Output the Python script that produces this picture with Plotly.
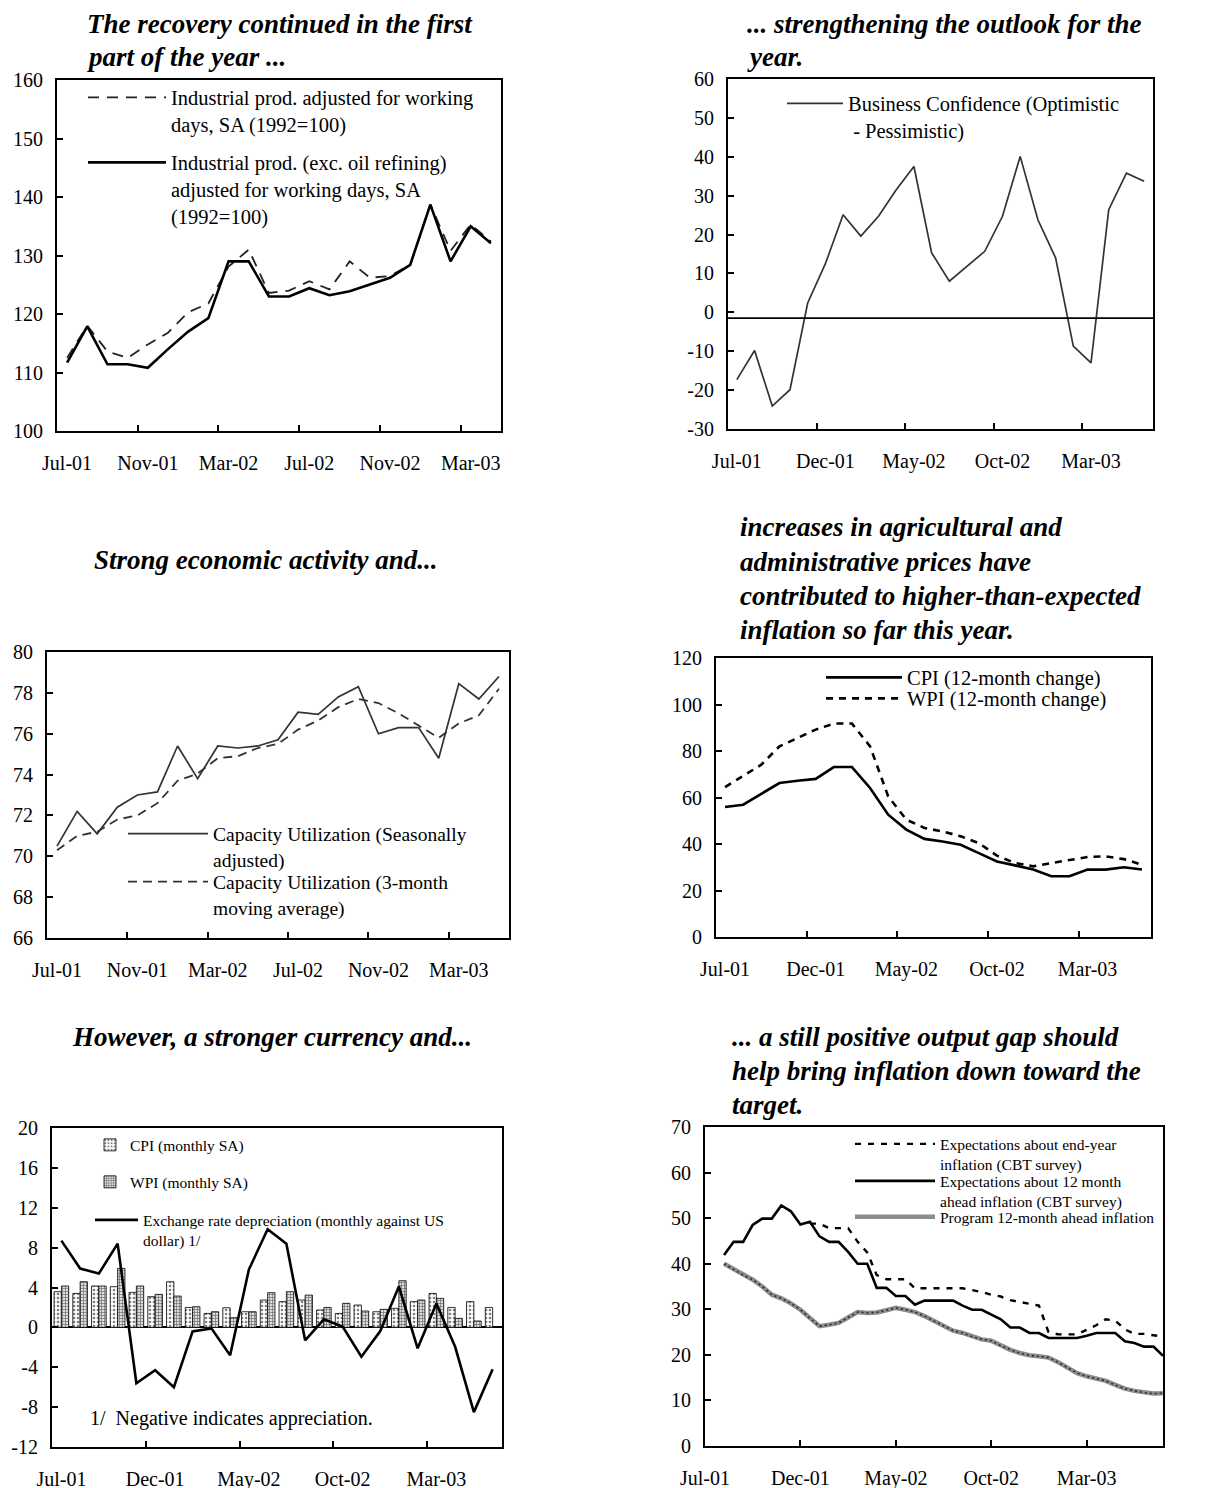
import plotly.graph_objects as go

W, H = 1212, 1488
SERIF = "Liberation Serif"
PAGE_OFFSET = 8  # default body margin of the html page

# ---------------- data ----------------
MONTHS = ["Jul-01", "Aug-01", "Sep-01", "Oct-01", "Nov-01", "Dec-01",
          "Jan-02", "Feb-02", "Mar-02", "Apr-02", "May-02", "Jun-02",
          "Jul-02", "Aug-02", "Sep-02", "Oct-02", "Nov-02", "Dec-02",
          "Jan-03", "Feb-03", "Mar-03", "Apr-03", "May-03", "Jun-03"]

# Panel 1: industrial production (Jul-01 .. Apr-03)
ip_total = [112.5, 118.0, 113.6, 112.5, 114.8, 116.8, 120.3, 121.8, 128.1, 131.0, 123.6,
            124.0, 125.6, 124.2, 129.0, 126.2, 126.5, 128.4, 138.7, 130.8, 135.3, 132.4]
ip_ex_oil = [111.7, 117.9, 111.4, 111.4, 110.8, 114.0, 117.0, 119.3, 129.0, 129.0, 123.0,
             123.0, 124.4, 123.2, 123.9, 125.0, 126.2, 128.4, 138.7, 129.0, 135.0, 132.1]

# Panel 2: business confidence (Jul-01 .. Jun-03)
business_conf = [-17.3, -9.8, -24.1, -19.9, 2.4, 12.5, 25.1, 19.6, 24.7, 31.5, 37.5, 15.3,
                 8.0, 11.8, 15.7, 24.7, 40.1, 23.8, 14.0, -8.7, -13.0, 26.4, 35.8, 33.7]
bc_reference_level = -1.5

# Panel 3: capacity utilization (Jul-01 .. May-03)
cu_sa = [70.5, 72.2, 71.1, 72.4, 73.0, 73.15, 75.4, 73.8, 75.4, 75.3, 75.4, 75.7,
         77.05, 76.95, 77.8, 78.3, 76.0, 76.3, 76.3, 74.8, 78.45, 77.7, 78.8]
cu_ma3 = [70.3, 71.0, 71.2, 71.8, 72.0, 72.6, 73.7, 74.05, 74.8, 74.9, 75.3, 75.5,
          76.2, 76.65, 77.3, 77.7, 77.5, 77.0, 76.4, 75.8, 76.5, 76.9, 78.2]

# Panel 4: CPI / WPI 12-month change (Jul-01 .. Jun-03)
cpi_12m = [55.9, 56.9, 61.6, 66.2, 67.2, 68.0, 73.1, 73.1, 64.1, 52.6, 46.2, 42.2,
           41.1, 39.7, 36.1, 32.5, 30.8, 29.0, 26.1, 26.1, 29.0, 29.0, 30.0, 29.0]
wpi_12m = [64.5, 69.4, 74.1, 82.0, 85.6, 89.2, 91.8, 91.8, 82.0, 60.5, 50.5, 46.9,
           45.4, 43.3, 40.4, 35.0, 31.8, 30.4, 31.8, 33.0, 34.4, 34.7, 33.5, 31.1]

# Panel 5: monthly SA inflation and exchange-rate depreciation (Jul-01 .. Jun-03)
cpi_monthly = [3.58, 3.41, 4.15, 4.08, 3.51, 3.08, 4.58, 2.0, 1.4, 1.97, 1.57, 2.74,
               2.58, 2.74, 1.74, 1.4, 2.24, 1.57, 1.91, 2.58, 3.41, 2.0, 2.58, 2.0]
wpi_monthly = [4.15, 4.58, 4.15, 5.92, 4.15, 3.31, 3.14, 2.07, 1.57, 0.97, 1.57, 3.48,
               3.58, 3.24, 2.0, 2.41, 1.64, 1.81, 4.68, 2.74, 2.91, 0.9, 0.64, None]
fx_depreciation = [8.7, 5.9, 5.4, 8.4, -5.6, -4.3, -6.0, -0.4, -0.1, -2.8, 5.8, 9.85,
                   8.4, -1.3, 0.8, 0.07, -2.95, -0.4, 4.1, -2.1, 2.4, -1.95, -8.5, -4.2]

# Panel 6: semi-monthly expectation surveys (months after Jul-01, from Aug-01)
survey_pos = [1 + 0.5 * k for k in range(47)]
exp_end_year = [None] * 9 + [48.8, 48.8, 47.8, 47.8, 47.8, 44.8, 42.5, 37.5, 36.6, 36.6,
                             36.6, 34.6, 34.6, 34.6, 34.6, 34.6, 34.6, 34.2, 33.8, 33.2,
                             32.8, 32.0, 31.6, 31.2, 30.8, 25.0, 24.5, 24.5, 24.5, 25.5,
                             26.5, 27.8, 27.5, 25.6, 24.6, 24.6, 24.3, 24.0]
exp_12m = [41.9, 44.8, 44.8, 48.5, 49.9, 49.9, 52.8, 51.5, 48.6, 49.2, 46.0, 44.8, 44.8,
           42.6, 40.0, 40.0, 34.7, 34.7, 32.9, 32.9, 31.0, 31.9, 31.9, 31.9, 31.9, 30.8,
           29.9, 29.9, 28.8, 27.8, 26.0, 26.0, 24.8, 24.8, 23.7, 23.7, 23.7, 23.7, 24.2,
           24.8, 24.8, 24.8, 23.0, 22.6, 21.8, 21.8, 19.8]
program_12m = [40.0, 38.8, 37.5, 36.5, 35.0, 33.2, 32.4, 31.3, 29.9, 28.0, 26.3, 26.6,
               27.0, 28.2, 29.4, 29.2, 29.3, 29.8, 30.3, 29.9, 29.4, 28.5, 27.5, 26.4,
               25.3, 24.8, 24.0, 23.4, 23.1, 22.0, 21.1, 20.4, 19.9, 19.7, 19.4, 18.4,
               17.2, 16.0, 15.3, 14.8, 14.3, 13.4, 12.6, 12.1, 11.7, 11.5, 11.6]

# ---------------- layout helpers ----------------
def fx(px):
    return (px - PAGE_OFFSET) / W


def fy(py):
    return 1 - (py - PAGE_OFFSET) / H


PANELS = {
    1: dict(x=(57, 501), y=(80, 431), yr=(100, 160), dy=10),
    2: dict(x=(728, 1153), y=(79, 429), yr=(-30, 60), dy=10),
    3: dict(x=(47, 509), y=(652, 938), yr=(66, 80), dy=2),
    4: dict(x=(716, 1151), y=(658, 937), yr=(0, 120), dy=20),
    5: dict(x=(52, 502), y=(1128, 1447), yr=(-12, 20), dy=4),
    6: dict(x=(705, 1163), y=(1127, 1446), yr=(0, 70), dy=10),
}

TICKFONT = dict(family=SERIF, size=20, color="black")

fig = go.Figure()
layout = dict(width=W, height=H, margin=dict(l=0, r=0, t=0, b=0, pad=0, autoexpand=False),
              autosize=False,
              paper_bgcolor="white", plot_bgcolor="white", showlegend=True,
              font=dict(family=SERIF, color="black"), barmode="group",
              bargap=0.22, bargroupgap=0.0)


def axname(kind, i):
    return kind if i == 1 else f"{kind}{i}"


for i, p in PANELS.items():
    xa, ya, yr_ = axname("xaxis", i), axname("yaxis", i), axname("yaxis", i + 6)
    lo, hi = p["yr"]
    tv = list(range(lo, hi + 1, p["dy"]))
    tt = [str(v) for v in tv]
    layout[xa] = dict(domain=[fx(p["x"][0]), fx(p["x"][1])], anchor=axname("y", i),
                      showline=True, linewidth=2, linecolor="black", mirror=True,
                      showgrid=False, zeroline=False, tickfont=TICKFONT,
                      ticklabelstandoff=13, fixedrange=True, automargin=False)
    layout[ya] = dict(domain=[fy(p["y"][1]), fy(p["y"][0])], anchor=axname("x", i),
                      range=[lo, hi], tickmode="array", tickvals=tv, ticktext=tt,
                      showline=True, linewidth=2, linecolor="black", mirror=True,
                      ticks="inside", ticklen=6, tickwidth=1.5, tickcolor="black",
                      showgrid=False, zeroline=False, tickfont=TICKFONT,
                      ticklabelstandoff=8, fixedrange=True, automargin=False)
    layout[yr_] = dict(overlaying=axname("y", i), anchor=axname("x", i), side="right",
                       range=[lo, hi], tickmode="array", tickvals=tv, ticktext=tt,
                       showline=False, ticks="inside", ticklen=6, tickwidth=1.5,
                       tickcolor="black", showgrid=False, zeroline=False,
                       tickfont=TICKFONT, ticklabelstandoff=13, fixedrange=True,
                       automargin=False)


def category_axis(i, n, step):
    xa = axname("xaxis", i)
    lab_idx = list(range(0, n, step))
    layout[xa].update(range=[-0.5, n - 0.5], tickmode="array", tickvals=lab_idx,
                      ticktext=[MONTHS[k] for k in lab_idx], ticks="",
                      minor=dict(tickmode="array",
                                 tickvals=[k - 0.5 for k in lab_idx[1:]],
                                 ticks="inside", ticklen=6, tickwidth=1.5,
                                 tickcolor="black"))


category_axis(1, len(ip_total), 4)
category_axis(2, len(business_conf), 5)
category_axis(3, len(cu_sa), 4)
category_axis(4, len(cpi_12m), 5)
category_axis(5, len(fx_depreciation), 5)
layout["xaxis6"].update(range=[0, 24], tickmode="array", tickvals=[0, 5, 10, 15, 20],
                        ticktext=[MONTHS[k] for k in [0, 5, 10, 15, 20]],
                        ticks="inside", ticklen=6, tickwidth=1.5, tickcolor="black")
layout["yaxis5"].update(zeroline=True, zerolinecolor="black", zerolinewidth=2)


# ---------------- legends (one per entry, placed like the original keys) ----------------
legend_count = [0]


def new_legend(x_left, y_line, size, itemwidth):
    legend_count[0] += 1
    key = "legend" if legend_count[0] == 1 else f"legend{legend_count[0]}"
    offset = size * 0.95
    layout[key] = dict(x=fx(x_left), y=fy(y_line - offset), xref="paper", yref="paper",
                       xanchor="left", yanchor="top", bgcolor="rgba(0,0,0,0)",
                       borderwidth=0, font=dict(family=SERIF, size=size, color="black"),
                       itemwidth=itemwidth, valign="top", traceorder="normal",
                       itemclick=False, itemdoubleclick=False)
    return key


def idx(vals):
    return list(range(len(vals)))


# Panel 1
fig.add_trace(go.Scatter(x=idx(ip_total), y=ip_total, mode="lines", xaxis="x", yaxis="y",
                         name="Industrial prod. adjusted for working<br>days, SA (1992=100)",
                         line=dict(color="#222", width=1.8, dash="11px,8px"),
                         legend=new_legend(83, 97, 20.5, 78)))
fig.add_trace(go.Scatter(x=idx(ip_ex_oil), y=ip_ex_oil, mode="lines", xaxis="x", yaxis="y",
                         name="Industrial prod. (exc. oil refining)<br>adjusted for working days, SA<br>(1992=100)",
                         line=dict(color="black", width=2.6),
                         legend=new_legend(83, 162, 20.5, 78)))

# Panel 2
fig.add_trace(go.Scatter(x=idx(business_conf), y=business_conf, mode="lines",
                         xaxis="x2", yaxis="y2",
                         name="Business Confidence (Optimistic<br>\u00a0- Pessimistic)",
                         line=dict(color="#333", width=1.7),
                         legend=new_legend(782, 103, 20.5, 56)))

# Panel 3
fig.add_trace(go.Scatter(x=idx(cu_sa), y=cu_sa, mode="lines", xaxis="x3", yaxis="y3",
                         name="Capacity Utilization (Seasonally<br>adjusted)",
                         line=dict(color="#333", width=1.7),
                         legend=new_legend(123, 833, 19.5, 80)))
fig.add_trace(go.Scatter(x=idx(cu_ma3), y=cu_ma3, mode="lines", xaxis="x3", yaxis="y3",
                         name="Capacity Utilization (3-month<br>moving average)",
                         line=dict(color="#333", width=1.8, dash="9px,6px"),
                         legend=new_legend(123, 881, 19.5, 80)))

# Panel 4
fig.add_trace(go.Scatter(x=idx(cpi_12m), y=cpi_12m, mode="lines", xaxis="x4", yaxis="y4",
                         name="CPI (12-month change)",
                         line=dict(color="black", width=2.6),
                         legend=new_legend(821, 677, 20.5, 76)))
fig.add_trace(go.Scatter(x=idx(wpi_12m), y=wpi_12m, mode="lines", xaxis="x4", yaxis="y4",
                         name="WPI (12-month change)",
                         line=dict(color="black", width=2.6, dash="7px,6px"),
                         legend=new_legend(821, 698, 20.5, 76)))

# Panel 5
fig.add_trace(go.Bar(x=idx(cpi_monthly), y=cpi_monthly, xaxis="x5", yaxis="y5",
                     name="CPI (monthly SA)", offsetgroup="cpi",
                     marker=dict(color="white", line=dict(color="black", width=0.8),
                                 pattern=dict(shape=".", fgcolor="black", bgcolor="white",
                                              size=4, solidity=0.35, fillmode="overlay")),
                     legend=new_legend(90, 1143, 15.5, 30)))
fig.add_trace(go.Bar(x=idx(wpi_monthly), y=wpi_monthly, xaxis="x5", yaxis="y5",
                     name="WPI (monthly SA)", offsetgroup="wpi",
                     marker=dict(color="white", line=dict(color="black", width=0.8),
                                 pattern=dict(shape="+", fgcolor="black", bgcolor="#ddd",
                                              size=3, solidity=0.4, fillmode="overlay")),
                     legend=new_legend(90, 1180, 15.5, 30)))
fig.add_trace(go.Scatter(x=idx(fx_depreciation), y=fx_depreciation, mode="lines",
                         xaxis="x5", yaxis="y5",
                         name="Exchange rate depreciation (monthly against US<br>dollar) 1/",
                         line=dict(color="black", width=2.6),
                         legend=new_legend(90, 1218, 15.5, 43)))

# Panel 6
fig.add_trace(go.Scatter(x=survey_pos, y=exp_end_year, mode="lines", xaxis="x6", yaxis="y6",
                         name="Expectations about end-year<br>inflation (CBT survey)",
                         line=dict(color="black", width=2.4, dash="6px,7px"),
                         legend=new_legend(850, 1142, 15.5, 80)))
fig.add_trace(go.Scatter(x=survey_pos, y=exp_12m, mode="lines", xaxis="x6", yaxis="y6",
                         name="Expectations about 12 month<br>ahead inflation (CBT survey)",
                         line=dict(color="black", width=2.6),
                         legend=new_legend(850, 1179, 15.5, 80)))
prog_legend = new_legend(850, 1215, 15.5, 80)
fig.add_trace(go.Scatter(x=survey_pos, y=program_12m, mode="lines", xaxis="x6", yaxis="y6",
                         name="Program 12-month ahead inflation",
                         line=dict(color="#8c8c8c", width=4.5),
                         legend=prog_legend, legendgroup="prog"))
fig.add_trace(go.Scatter(x=survey_pos, y=program_12m, mode="lines", xaxis="x6", yaxis="y6",
                         name="Program 12-month ahead inflation", showlegend=False,
                         line=dict(color="#2a2a2a", width=1.6, dash="2px,3px"),
                         legend=prog_legend, legendgroup="prog", hoverinfo="skip"))

# ---------------- titles / notes ----------------
annotations = []


def title_line(text, x, y, anchor="left"):
    annotations.append(dict(text=f"<b><i>{text}</i></b>", x=fx(x), y=fy(y),
                            xref="paper", yref="paper", xanchor=anchor, yanchor="middle",
                            showarrow=False,
                            font=dict(family=SERIF, size=27, color="black")))


title_line("The recovery continued in the first", 85, 24)
title_line("part of the year ...", 85, 57)
title_line("... strengthening the outlook for the", 745, 24)
title_line("year.", 745, 57)
title_line("Strong economic activity and...", 266, 560, "center")
title_line("increases in agricultural and", 738, 527)
title_line("administrative prices have", 738, 562)
title_line("contributed to higher-than-expected", 738, 596)
title_line("inflation so far this year.", 738, 630)
title_line("However, a stronger currency and...", 272, 1037, "center")
title_line("... a still positive output gap should", 730, 1037)
title_line("help bring inflation down toward the", 730, 1071)
title_line("target.", 730, 1105)

annotations.append(dict(text="1/  Negative indicates appreciation.", x=fx(88), y=fy(1418),
                        xref="paper", yref="paper", xanchor="left", yanchor="middle",
                        showarrow=False, font=dict(family=SERIF, size=20, color="black")))
layout["annotations"] = annotations

layout["shapes"] = [dict(type="line", xref="x2 domain", yref="y2", x0=0, x1=1,
                         y0=bc_reference_level, y1=bc_reference_level,
                         line=dict(color="black", width=1.6))]

fig.update_layout(**layout)
fig.write_html("out.html")
